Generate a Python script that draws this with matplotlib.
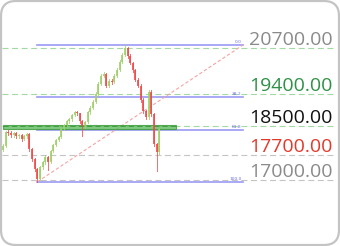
import matplotlib.pyplot as plt
from matplotlib.patches import Rectangle, FancyBboxPatch
from matplotlib.transforms import IdentityTransform

# candle data
opens = [17850, 17946, 18335, 18310, 18250, 18310, 18224, 18250, 18141, 18224,
         18280, 17862, 17584, 17306, 17028, 17361, 17500, 17640, 17500, 17807,
         17973, 18112, 18196, 18419, 18530, 18641, 18697, 18808, 18892, 18864,
         18641, 18502, 18614, 18892, 19031, 19198, 19420, 19699, 19921, 19977,
         19643, 19782, 19754, 19921, 20088, 20310, 20505, 20700, 20477, 20283,
         20088, 19810, 19643, 19253, 18920, 18753, 19476, 18836, 18001, 17779]
closes = [17946, 18335, 18310, 18250, 18310, 18224, 18250, 18141, 18224, 18280,
          17862, 17584, 17306, 17028, 17361, 17500, 17640, 17500, 17807, 17973,
          18112, 18196, 18419, 18530, 18641, 18697, 18808, 18892, 18864, 18641,
          18502, 18614, 18892, 19031, 19198, 19420, 19699, 19921, 19977, 19643,
          19782, 19754, 19921, 20088, 20310, 20505, 20700, 20477, 20283, 20088,
          19810, 19643, 19253, 18920, 18753, 19476, 18836, 18001, 17779, 18419]
highs = [18000, 18380, 18400, 18360, 18350, 18340, 18300, 18290, 18270, 18330,
         18310, 17900, 17620, 17340, 17400, 17540, 17690, 17670, 17840, 18010,
         18150, 18240, 18450, 18570, 18680, 18740, 18850, 18940, 18930, 18890,
         18670, 18650, 18930, 19070, 19240, 19460, 19740, 19960, 20040, 20000,
         19830, 19820, 19960, 20130, 20350, 20550, 20784, 20730, 20520, 20320,
         20120, 19850, 19680, 19290, 18960, 19530, 19510, 18870, 18040, 18460]
lows = [17800, 17920, 18260, 18200, 18210, 18180, 18170, 18100, 18110, 18190,
        17820, 17540, 17260, 16950, 17000, 17320, 17460, 17280, 17470, 17780,
        17940, 18080, 18170, 18390, 18500, 18600, 18660, 18780, 18820, 18600,
        18224, 18470, 18590, 18860, 19000, 19170, 19390, 19670, 19890, 19600,
        19610, 19700, 19720, 19890, 20060, 20280, 20470, 20430, 20240, 20040,
        19770, 19600, 19200, 18870, 18700, 18720, 18790, 17950, 17250, 17740]

# price levels on the right
levels = [20700, 19400, 18500, 17700, 17000]
level_labels = ['20700.00', '19400.00', '18500.00', '17700.00', '17000.00']
level_colors = ['#8a8a8a', '#2e9147', '#111111', '#e3392b', '#8a8a8a']
line_colors = ['#a3d9a3', '#a3d9a3', '#a3d9a3', '#c4c4c4', '#c4c4c4']

# fibonacci retracement
fib_high = 20784
fib_low = 16950
fib_ratios = [0.0, 0.382, 0.618, 1.0]
fib_labels = ['0.0', '38.2', '61.8', '100.0']
fib_start = 13
fib_end = 90.6

# support zone
zone_low = 18420
zone_high = 18530
zone_end = 65.3

fig = plt.figure(figsize=(3.4, 2.46), dpi=100)
ax = fig.add_axes([0, 0, 1, 1])
ax.axis('off')
ax.set_xlim(-1.13, 127.2)
ax.set_ylim(15150, 22045)

# dashed horizontal levels
for lvl, lc in zip(levels, line_colors):
    ax.axhline(lvl, xmin=0.006, xmax=0.985, color=lc, lw=0.8,
               linestyle=(0, (5.4, 3.2)), zorder=1)

# fib lines + small labels
for r, lab in zip(fib_ratios, fib_labels):
    price = fib_high - r * (fib_high - fib_low)
    ax.plot([fib_start, fib_end], [price, price], color='#9a9af5', lw=1.2, zorder=2)
    ax.text(fib_end - 0.5, price + 25, lab, color='#7070e0', fontsize=3.2,
            ha='right', va='bottom', zorder=3)

# trend line low -> high
ax.plot([fib_start, fib_end], [fib_low, fib_high], color='#f5a3a3', lw=0.8,
        linestyle=(0, (3, 2)), zorder=2)

# green zone
ax.add_patch(Rectangle((0, zone_low), zone_end, zone_high - zone_low,
                       facecolor='#6cbf6c', edgecolor='#3f9f3f', lw=0.8,
                       alpha=0.85, zorder=3))
ax.plot([0, zone_end], [18500, 18500], color='#3f9f3f', lw=0.7,
        linestyle=(0, (5.4, 3.2)), zorder=4)

# candles
for i, (o, h, l, c) in enumerate(zip(opens, highs, lows, closes)):
    col = '#9fd168' if c >= o else '#f04a4a'
    ax.plot([i, i], [l, h], color=col, lw=0.7, alpha=0.8, zorder=5)
    ax.add_patch(Rectangle((i - 0.38, min(o, c)), 0.76, max(abs(c - o), 20),
                           facecolor=col, edgecolor='none', alpha=0.85, zorder=6))

# right-hand labels
for lvl, lab, col in zip(levels, level_labels, level_colors):
    ax.text(124.5, lvl + 85, lab, color=col, fontsize=14, family='Open Sans',
            ha='right', va='baseline', zorder=7)

# rounded border
fig.patches.append(FancyBboxPatch((1, 1), 338, 244,
                                  boxstyle='round,pad=0,rounding_size=15',
                                  facecolor='none', edgecolor='#c4c4c4', lw=1.6,
                                  transform=IdentityTransform(), figure=fig))

fig.savefig('out.png', dpi=100)
